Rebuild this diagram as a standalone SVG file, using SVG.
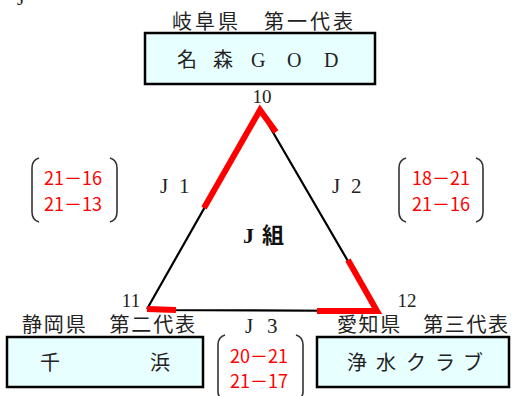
<svg xmlns="http://www.w3.org/2000/svg" width="512" height="396" viewBox="0 0 512 396">
<style>
.box{fill:#e8ffff;stroke:#000;stroke-width:2.5}
.hdr{font-family:"Liberation Serif","Noto Sans CJK JP",serif;font-size:20px;fill:#222}
.nm{font-family:"Liberation Serif","Noto Sans CJK JP",serif;font-size:20px;fill:#222}
.num{font-family:"Liberation Serif","Noto Sans CJK JP",serif;font-size:19px;fill:#222}
.lbl{font-family:"Liberation Serif","Noto Sans CJK JP",serif;font-size:21px;fill:#222}
.sc{font-family:"Noto Sans CJK JP","Liberation Sans",sans-serif;font-size:18px;fill:#ff0000}
.br{fill:none;stroke:#333;stroke-width:1.6}
.edge{stroke:#000;stroke-width:2.2;fill:none}
.win{stroke:#ff0000;stroke-width:6;fill:none}
</style>
<rect width="512" height="396" fill="#fff"/>
<text class="num" x="17" y="5">J</text>

<g id="team-top">
<text class="hdr" x="172" y="29" textLength="181" lengthAdjust="spacing">岐阜県　第一代表</text>
<rect class="box" x="145" y="33" width="230" height="51"/>
<text class="nm" x="177 213" y="67">名森</text>
<text class="nm" x="251 287 324" y="67" font-size="23">GOD</text>
<text class="num" x="262" y="103" text-anchor="middle">10</text>
</g>

<g id="team-left">
<text class="hdr" x="22" y="332" textLength="173" lengthAdjust="spacing">静岡県　第二代表</text>
<rect class="box" x="7" y="337" width="196" height="50"/>
<text class="nm" x="40 150" y="370">千浜</text>
<text class="num" x="131" y="307" text-anchor="middle">11</text>
</g>

<g id="team-right">
<text class="hdr" x="337" y="332" textLength="171" lengthAdjust="spacing">愛知県　第三代表</text>
<rect class="box" x="317" y="337" width="192" height="50"/>
<text class="nm" x="347 376 406 435 463" y="370">浄水クラブ</text>
<text class="num" x="407" y="307" text-anchor="middle">12</text>
</g>

<g id="group-label">
<text x="243" y="243" font-size="22" font-weight="bold" fill="#111"><tspan font-family="Liberation Serif, serif">J</tspan><tspan x="262" font-family="Noto Sans CJK JP, sans-serif">組</tspan></text>
</g>

<g id="connectors">
<path class="edge" d="M260,110 L147,309 M260,110 L377,311 M147,310 L377,311"/>
<path class="win" d="M204,208 L260,110 L276,132"/>
<path class="win" d="M348,260 L377,311 L317,311"/>
<path class="win" d="M147,309 L176,310"/>
<text class="lbl" x="160 179" y="193">J1</text>
<text class="lbl" x="332 351" y="193">J2</text>
<text class="lbl" x="245 267" y="333">J3</text>
</g>

<g id="score-j1">
<path class="br" d="M39,158 Q32,160 32,168 L32,212 Q32,220 39,222 M110,158 Q117,160 117,168 L117,212 Q117,220 110,222"/>
<text class="sc" x="44" y="185">21－16</text>
<text class="sc" x="44" y="211">21－13</text>
</g>

<g id="score-j2">
<path class="br" d="M406,158 Q399,160 399,168 L399,212 Q399,220 406,222 M476,158 Q483,160 483,168 L483,212 Q483,220 476,222"/>
<text class="sc" x="412" y="185">18－21</text>
<text class="sc" x="412" y="211">21－16</text>
</g>

<g id="score-j3">
<path class="br" d="M225,335 Q218,337 218,345 L218,392 Q218,398 225,400 M296,335 Q303,337 303,345 L303,392 Q303,398 296,400"/>
<text class="sc" x="230" y="363">20－21</text>
<text class="sc" x="230" y="388">21－17</text>
</g>
</svg>
